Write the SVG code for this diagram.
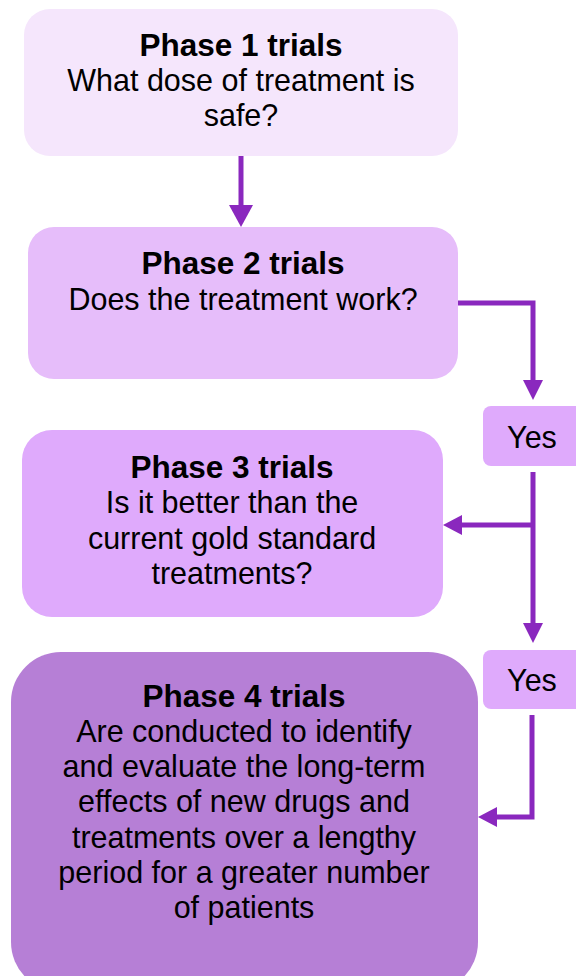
<svg xmlns="http://www.w3.org/2000/svg" width="576" height="976" viewBox="0 0 576 976">
<defs>
<style>
text{font-family:"Liberation Sans",Arial,sans-serif;font-size:30.5px;fill:#000;text-anchor:middle}
.b{font-weight:bold;font-size:31.5px}
.ln{fill:none;stroke:#8A28BE;stroke-width:5}
.ah{fill:#8A28BE}
</style>
</defs>
<rect width="576" height="976" fill="#fff"/>
<g id="connectors">
<path class="ln" d="M241 156V206"/>
<polygon class="ah" points="229,205 253,205 241,227"/>
<path class="ln" d="M458 303H533V381"/>
<polygon class="ah" points="523,380 543,380 533,400"/>
<path class="ln" d="M533 472V624"/>
<polygon class="ah" points="523,623 543,623 533,643"/>
<path class="ln" d="M535 525H461"/>
<polygon class="ah" points="462,515 462,535 443,525"/>
<path class="ln" d="M532 715V817H496"/>
<polygon class="ah" points="497,807 497,827 478,817"/>
</g>
<g id="phase1">
<rect x="24" y="9" width="434" height="147" rx="26" fill="#F5E6FC"/>
<text x="241" y="56" class="b">Phase 1 trials</text>
<text x="241" y="91">What dose of treatment is</text>
<text x="241" y="126">safe?</text>
</g>
<g id="phase2">
<rect x="28" y="227" width="430" height="152" rx="26" fill="#E6BDFA"/>
<text x="243" y="274" class="b">Phase 2 trials</text>
<text x="243" y="310">Does the treatment work?</text>
</g>
<g id="yes1">
<rect x="483" y="406" width="110" height="60" rx="8" fill="#DFAAFC"/>
<text x="532" y="448">Yes</text>
</g>
<g id="phase3">
<rect x="22" y="430" width="421" height="187" rx="30" fill="#DFAAFC"/>
<text x="232" y="478" class="b">Phase 3 trials</text>
<text x="232" y="513">Is it better than the</text>
<text x="232" y="549">current gold standard</text>
<text x="232" y="584">treatments?</text>
</g>
<g id="yes2">
<rect x="483" y="650" width="110" height="59" rx="8" fill="#DFAAFC"/>
<text x="532" y="691">Yes</text>
</g>
<g id="phase4">
<rect x="11" y="652" width="467" height="340" rx="50" fill="#B67FD6"/>
<text x="244" y="707" class="b">Phase 4 trials</text>
<text x="244" y="742">Are conducted to identify</text>
<text x="244" y="777">and evaluate the long-term</text>
<text x="244" y="812">effects of new drugs and</text>
<text x="244" y="848">treatments over a lengthy</text>
<text x="244" y="883">period for a greater number</text>
<text x="244" y="918">of patients</text>
</g>
</svg>
